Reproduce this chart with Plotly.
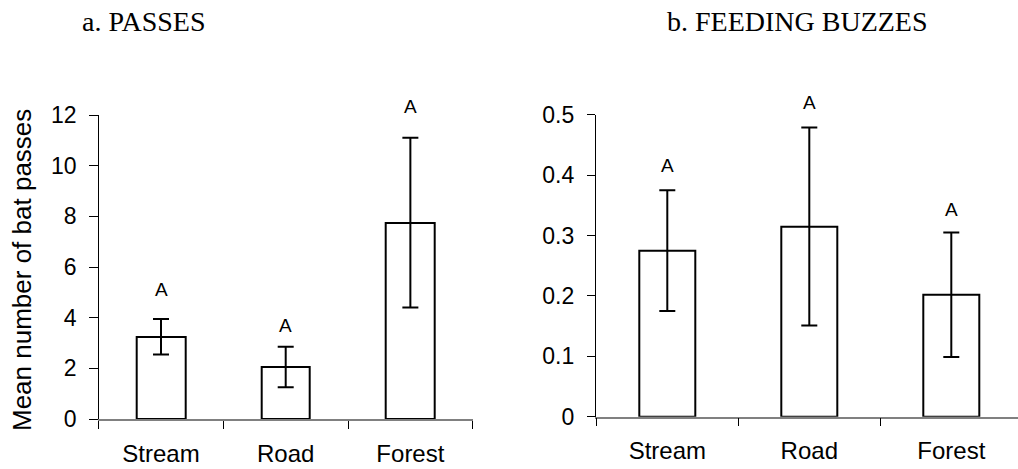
import plotly.graph_objects as go

# ---- data ----
sites = ["Stream", "Road", "Forest"]

passes_mean = [3.25, 2.05, 7.75]
passes_se = [0.70, 0.80, 3.35]
passes_letters = ["A", "A", "A"]
passes_ticks = [0, 2, 4, 6, 8, 10, 12]

buzz_mean = [0.275, 0.315, 0.202]
buzz_se = [0.100, 0.164, 0.103]
buzz_letters = ["A", "A", "A"]
buzz_ticks = [0, 0.1, 0.2, 0.3, 0.4, 0.5]
buzz_ticktext = ["0", "0.1", "0.2", "0.3", "0.4", "0.5"]

panel_titles = ["a. PASSES", "b. FEEDING BUZZES"]
y_title = "Mean number of bat passes"

# ---- page geometry (pixels) ----
W, H = 1018, 469
SANS = "Liberation Sans, Arial, sans-serif"
SERIF = "Liberation Serif, Times New Roman, serif"


def px_x(p):
    return p / W


def px_y(p):
    return 1 - p / H


# gap (px) between error-bar top and the centre of each letter
passes_letter_gap = [29, 21, 31]
buzz_letter_gap = [25, 25, 23]

fig = go.Figure()

bar_style = dict(color="white", line=dict(color="black", width=2))
err_style = dict(type="data", color="black", thickness=2, width=8)

fig.add_trace(go.Bar(
    x=sites, y=passes_mean, width=0.39, marker=bar_style,
    error_y=dict(array=passes_se, **err_style),
    xaxis="x", yaxis="y", showlegend=False, hoverinfo="skip",
))
fig.add_trace(go.Bar(
    x=sites, y=buzz_mean, width=0.395, marker=bar_style,
    error_y=dict(array=buzz_se, **err_style),
    xaxis="x2", yaxis="y2", showlegend=False, hoverinfo="skip",
))

tick_font = dict(family=SANS, size=23, color="black")
cat_font = dict(family=SANS, size=24, color="black")

x_common = dict(
    type="category", tickson="boundaries", ticks="outside", ticklen=8,
    tickwidth=1, tickcolor="black", showline=True, linecolor="#808080",
    linewidth=1.5, showgrid=False, zeroline=False, layer="below traces",
    tickfont=cat_font, ticklabelstandoff=12, automargin=False,
)
y_common = dict(
    ticks="outside", ticklen=8.5, tickwidth=1, tickcolor="black",
    showline=True, linecolor="black", linewidth=1, showgrid=False,
    zeroline=False, tickfont=tick_font, ticklabelstandoff=8, automargin=False,
)
# mirror axes carrying the inner half of each crossing tick
x_inner = dict(
    type="linear", ticks="inside", ticklen=8, tickwidth=1, tickcolor="black",
    showticklabels=False, showline=False, showgrid=False, zeroline=False,
    automargin=False,
)
y_inner = dict(
    ticks="inside", ticklen=8.5, tickwidth=1, tickcolor="black",
    showticklabels=False, showline=False, showgrid=False, zeroline=False,
    automargin=False,
)

left_dom_x = [px_x(98.7), px_x(472.7)]
left_dom_y = [px_y(419), px_y(115)]
right_dom_x = [px_x(596.3), 1.0]
right_dom_y = [px_y(416.7), px_y(114.7)]
right_x_end = 2.5 - (1022.3 - W) / 142.0

fig.update_layout(
    width=W, height=H,
    margin=dict(l=0, r=0, t=0, b=0, autoexpand=False),
    paper_bgcolor="white", plot_bgcolor="rgba(0,0,0,0)",
    bargap=0,
    xaxis=dict(domain=left_dom_x, anchor="y", range=[-0.5, 2.5], **x_common),
    yaxis=dict(domain=left_dom_y, anchor="x", range=[0, 12],
               tickvals=passes_ticks, **y_common),
    xaxis2=dict(domain=right_dom_x, anchor="y2", range=[-0.5, right_x_end],
                **x_common),
    yaxis2=dict(domain=right_dom_y, anchor="x2", range=[0, 0.5],
                tickvals=buzz_ticks, ticktext=buzz_ticktext, **y_common),
    xaxis3=dict(overlaying="x", anchor="y", range=[-0.5, 2.5],
                tickvals=[-0.5, 0.5, 1.5, 2.5], **x_inner),
    yaxis3=dict(overlaying="y", anchor="x", range=[0, 12],
                tickvals=passes_ticks, **y_inner),
    xaxis4=dict(overlaying="x2", anchor="y2", range=[-0.5, right_x_end],
                tickvals=[-0.5, 0.5, 1.5, 2.5], **x_inner),
    yaxis4=dict(overlaying="y2", anchor="x2", range=[0, 0.5],
                tickvals=buzz_ticks, **y_inner),
)

annotations = []
# significance letters above the error bars
for i, s in enumerate(sites):
    annotations.append(dict(
        x=s, y=passes_mean[i] + passes_se[i], xref="x", yref="y",
        text=passes_letters[i], showarrow=False, yanchor="middle",
        yshift=passes_letter_gap[i], font=dict(family=SANS, size=19, color="black"),
    ))
    annotations.append(dict(
        x=s, y=buzz_mean[i] + buzz_se[i], xref="x2", yref="y2",
        text=buzz_letters[i], showarrow=False, yanchor="middle",
        yshift=buzz_letter_gap[i], font=dict(family=SANS, size=19, color="black"),
    ))

# panel titles
annotations.append(dict(
    x=px_x(143), y=px_y(21), xref="paper", yref="paper", text=panel_titles[0],
    showarrow=False, xanchor="center", yanchor="middle",
    font=dict(family=SERIF, size=28, color="black"),
))
annotations.append(dict(
    x=px_x(797), y=px_y(21), xref="paper", yref="paper", text=panel_titles[1],
    showarrow=False, xanchor="center", yanchor="middle",
    font=dict(family=SERIF, size=28, color="black"),
))

# y-axis title of panel a
annotations.append(dict(
    x=px_x(22), y=px_y(270), xref="paper", yref="paper", text=y_title,
    textangle=-90, showarrow=False, xanchor="center", yanchor="middle",
    font=dict(family=SANS, size=26, color="black"),
))

fig.update_layout(annotations=annotations)

fig.write_html("out.html")
